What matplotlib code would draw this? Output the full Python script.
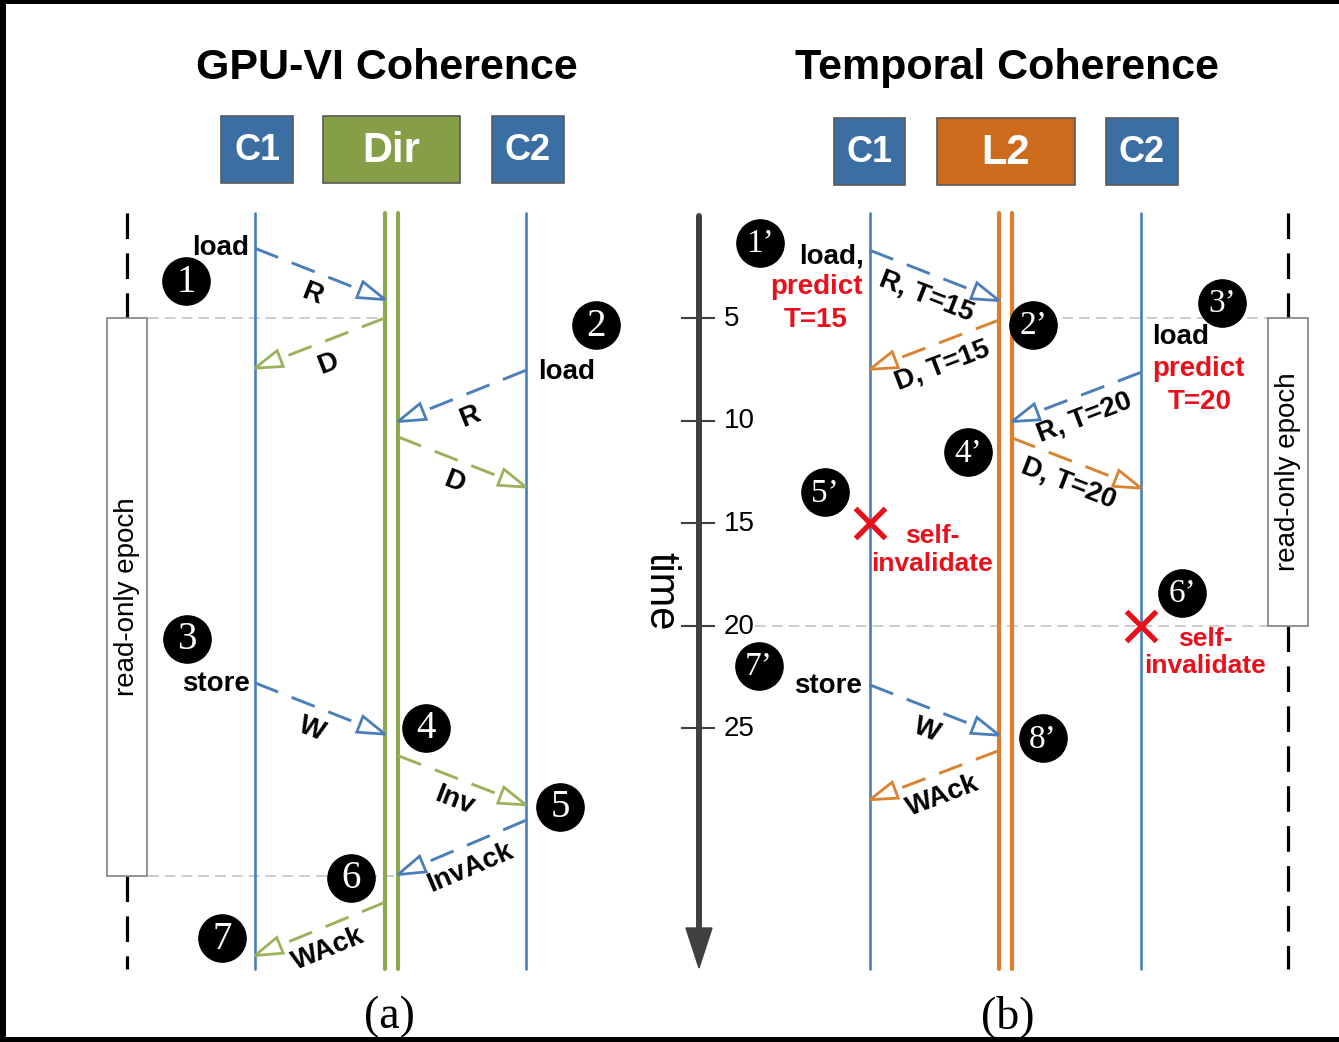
import math
import matplotlib
matplotlib.use("Agg")
import matplotlib.pyplot as plt
from matplotlib.patches import Rectangle, Polygon

plt.rcParams['font.family'] = ['Liberation Sans', 'DejaVu Sans']

W, H = 1339, 1042
T0, PX = 215.5, 20.5          # pixel row of t=0 and pixels per time unit


def ty(t):
    return T0 + PX * t


# ---- data ---------------------------------------------------------------
lanes_a = {"C1": 255, "DirL": 385, "DirR": 398, "C2": 526}
lanes_b = {"C1": 870, "L2L": 999, "L2R": 1012, "C2": 1141}

# (source lane, dest lane, t at source, t at dest, label, kind)
msgs_a = [
    ("C1", "DirL", 1.6, 4.1, "R", "req"),
    ("DirL", "C1", 5.0, 7.45, "D", "home"),
    ("C2", "DirR", 7.55, 10.05, "R", "req"),
    ("DirR", "C2", 10.8, 13.25, "D", "home"),
    ("C1", "DirL", 22.8, 25.3, "W", "req"),
    ("DirR", "C2", 26.35, 28.75, "Inv", "home"),
    ("C2", "DirR", 29.5, 32.15, "InvAck", "req"),
    ("DirL", "C1", 33.5, 36.1, "WAck", "home"),
]
msgs_b = [
    ("C1", "L2L", 1.7, 4.15, "R, T=15", "req"),
    ("L2L", "C1", 5.1, 7.5, "D, T=15", "home"),
    ("C2", "L2R", 7.65, 10.05, "R, T=20", "req"),
    ("L2R", "C2", 10.85, 13.3, "D, T=20", "home"),
    ("C1", "L2L", 22.9, 25.35, "W", "req"),
    ("L2L", "C1", 26.1, 28.5, "WAck", "home"),
]

# numbered steps: (text, x, t)
steps_a = [("1", 186, 3.2), ("2", 596, 5.35), ("3", 187, 20.65), ("4", 426, 25.0),
           ("5", 560, 28.85), ("6", 351, 32.3), ("7", 222, 35.25)]
steps_b = [("1\u2019", 760, 1.35), ("2\u2019", 1033, 5.35), ("3\u2019", 1222, 4.25),
           ("4\u2019", 968, 11.55), ("5\u2019", 825, 13.5), ("6\u2019", 1182, 18.4),
           ("7\u2019", 759, 21.98), ("8\u2019", 1043, 25.5)]

time_ticks = [5, 10, 15, 20, 25]
epoch_a = (5, 32.2)
epoch_b = (5, 20)
selfinv_lanes = ["C1", "C2"]
selfinv_t = [15, 20]

BLUE_BOX, GREEN_BOX, ORANGE_BOX = '#3B6EA2', '#869E48', '#CD6B1C'
BLUE, GREEN, ORANGE = '#4A7EBB', '#8EA84E', '#DB7F2C'
GREEN_MSG, ORANGE_MSG = '#9AB25A', '#D9822F'
RED = '#E8101A'

fig = plt.figure(figsize=(W / 100, H / 100), dpi=100)
ax = fig.add_axes([0, 0, 1, 1])
ax.set_xlim(0, W)
ax.set_ylim(H, 0)
ax.axis('off')

LANE_TOP, LANE_BOT = -0.12, 36.75


def arrow(x0, y0, x1, y1, color, label):
    dx, dy = x1 - x0, y1 - y0
    L = math.hypot(dx, dy)
    ux, uy = dx / L, dy / L
    hl, hw = 27, 8.5
    bx, by = x1 - ux * hl, y1 - uy * hl
    ax.plot([x0, bx], [y0, by], color=color, lw=2.1, ls=(0, (8.5, 5)),
            dash_capstyle='butt', zorder=3)
    nx, ny = -uy, ux
    ax.add_patch(Polygon([(x1, y1), (bx + nx * hw, by + ny * hw), (bx - nx * hw, by - ny * hw)],
                         closed=True, fc='white', ec=color, lw=2.0, zorder=4))
    s = 1 if dx > 0 else -1
    lx, ly = dx * s, dy * s
    px, py = -ly / L, lx / L
    mx, my = (x0 + x1) / 2 + px * 22, (y0 + y1) / 2 + py * 22
    ang = -math.degrees(math.atan2(ly, lx))
    ax.text(mx, my, label, rotation=ang, rotation_mode='anchor', ha='center',
            va='center', fontsize=20, fontweight='bold', zorder=6)


def panel(title, tx, boxes, lanes, pairs, msgs, steps, home_color):
    ax.text(tx, 68, title, ha='center', va='center', fontsize=31, fontweight='bold')
    for (x0, x1, y0, y1, name, fc, fs) in boxes:
        ax.add_patch(Rectangle((x0, y0), x1 - x0, y1 - y0, fc=fc, ec='#5a5a5a', lw=1.2, zorder=2))
        ax.text((x0 + x1) / 2, (y0 + y1) / 2 + 1, name, ha='center', va='center',
                color='white', fontsize=fs, fontweight='bold', zorder=3)
    for name, x in lanes.items():
        if name in pairs:
            ax.plot([x, x], [ty(LANE_TOP), ty(LANE_BOT)], color=pairs[name], lw=3.0,
                    solid_capstyle='round', zorder=2)
        else:
            ax.plot([x, x], [ty(LANE_TOP), ty(LANE_BOT)], color=BLUE, lw=1.9,
                    solid_capstyle='round', zorder=2)
    for (src, dst, t0, t1, lab, kind) in msgs:
        col = BLUE if kind == 'req' else home_color
        arrow(lanes[src], ty(t0), lanes[dst], ty(t1), col, lab)
    for (lab, x, t) in steps:
        ax.plot(x, ty(t), 'o', ms=34, mfc='black', mec='black', zorder=7)
        fs = 28 if len(lab) == 1 else 24
        ax.text(x, ty(t) + 1, lab, ha='center', va='center', color='white',
                fontsize=fs, family='Liberation Serif', zorder=8)


def epoch(x, tr):
    y0, y1 = ty(tr[0]), ty(tr[1])
    ax.plot([x, x], [ty(LANE_TOP), y0], color='black', lw=2.3, ls=(0, (8, 4.5)),
            dash_capstyle='butt', zorder=2)
    ax.plot([x, x], [y1, ty(LANE_BOT)], color='black', lw=2.3, ls=(0, (8, 4.5)),
            dash_capstyle='butt', zorder=2)
    ax.add_patch(Rectangle((x - 20, y0), 40, y1 - y0, fc='white', ec='#808080', lw=1.2, zorder=3))
    ax.text(x, (y0 + y1) / 2, 'read-only epoch', rotation=90, ha='center', va='center',
            fontsize=20, zorder=4)


# ---- panel (a) -----------------------------------------------------------
for yy, xa, xb in [(ty(epoch_a[0]), 148, lanes_a['DirL']), (ty(epoch_a[1]), 148, lanes_a['DirR'])]:
    ax.plot([xa, xb], [yy, yy], color='#C0C0C0', lw=1.1, ls=(0, (7, 4)), zorder=1)
panel('GPU-VI Coherence', 387,
      [(221, 293, 116, 183, 'C1', BLUE_BOX, 26), (323, 460, 116, 183, 'Dir', GREEN_BOX, 30),
       (492, 564, 116, 183, 'C2', BLUE_BOX, 26)],
      lanes_a, {'DirL': GREEN, 'DirR': GREEN}, msgs_a, steps_a, GREEN_MSG)
epoch(127, epoch_a)
ax.text(249, ty(1.6), 'load', ha='right', va='center', fontsize=20, fontweight='bold')
ax.text(538, ty(7.65), 'load', ha='left', va='center', fontsize=20, fontweight='bold')
ax.text(250, ty(22.85), 'store', ha='right', va='center', fontsize=20, fontweight='bold')
ax.text(389, 1017, '(a)', ha='center', va='center', fontsize=33, family='Liberation Serif')

# ---- panel (b) -----------------------------------------------------------
ax.plot([lanes_b['L2R'], 1268], [ty(epoch_b[0])] * 2, color='#C0C0C0', lw=1.1,
        ls=(0, (7, 4)), zorder=1)
ax.plot([755, 1268], [ty(epoch_b[1])] * 2, color='#C0C0C0', lw=1.1, ls=(0, (7, 4)), zorder=1)
panel('Temporal Coherence', 1007,
      [(834, 905, 118, 185, 'C1', BLUE_BOX, 26), (937, 1075, 118, 185, 'L2', ORANGE_BOX, 30),
       (1106, 1178, 118, 185, 'C2', BLUE_BOX, 26)],
      lanes_b, {'L2L': ORANGE, 'L2R': ORANGE}, msgs_b, steps_b, ORANGE_MSG)
epoch(1288, epoch_b)

# time axis
ax.plot([699, 699], [ty(0), 932], color='#404040', lw=4.3, solid_capstyle='round', zorder=3)
ax.add_patch(Polygon([(686, 928), (712, 928), (699, 968)], closed=True, fc='#404040',
                     ec='#404040', zorder=3))
for t in time_ticks:
    ax.plot([682, 714], [ty(t)] * 2, color='#404040', lw=1.5, zorder=3)
    ax.text(724, ty(t) + 1, str(t), ha='left', va='center', fontsize=20)
ax.text(660, 591, 'time', rotation=-90, ha='center', va='center', fontsize=30)

ax.text(864, 256, 'load,', ha='right', va='center', fontsize=20, fontweight='bold')
ax.text(816, 287, 'predict', ha='center', va='center', fontsize=20, fontweight='bold', color=RED)
ax.text(816, 320, 'T=15', ha='center', va='center', fontsize=20, fontweight='bold', color=RED)
ax.text(1152, 337, 'load', ha='left', va='center', fontsize=20, fontweight='bold')
ax.text(1152, 369, 'predict', ha='left', va='center', fontsize=20, fontweight='bold', color=RED)
ax.text(1200, 402, 'T=20', ha='center', va='center', fontsize=20, fontweight='bold', color=RED)
ax.text(862, ty(22.95), 'store', ha='right', va='center', fontsize=20, fontweight='bold')

for lane, t, cx in zip(selfinv_lanes, selfinv_t, [932, 1205]):
    ax.plot(lanes_b[lane], ty(t), marker='x', ms=22, mew=3.8, color=RED, zorder=6)
    ax.text(cx, ty(t) + 27, 'self-\ninvalidate', ha='center', va='center', fontsize=19,
            fontweight='bold', color=RED, linespacing=1.2, zorder=6)

ax.text(1008, 1017, '(b)', ha='center', va='center', fontsize=33, family='Liberation Serif')

# black frame of the screenshot
for r in [(0, 0, W, 4), (0, 0, 6, H), (0, H - 5, W, 5)]:
    ax.add_patch(Rectangle((r[0], r[1]), r[2], r[3], fc='black', ec='none', zorder=10))

fig.savefig('out.png', dpi=100)
